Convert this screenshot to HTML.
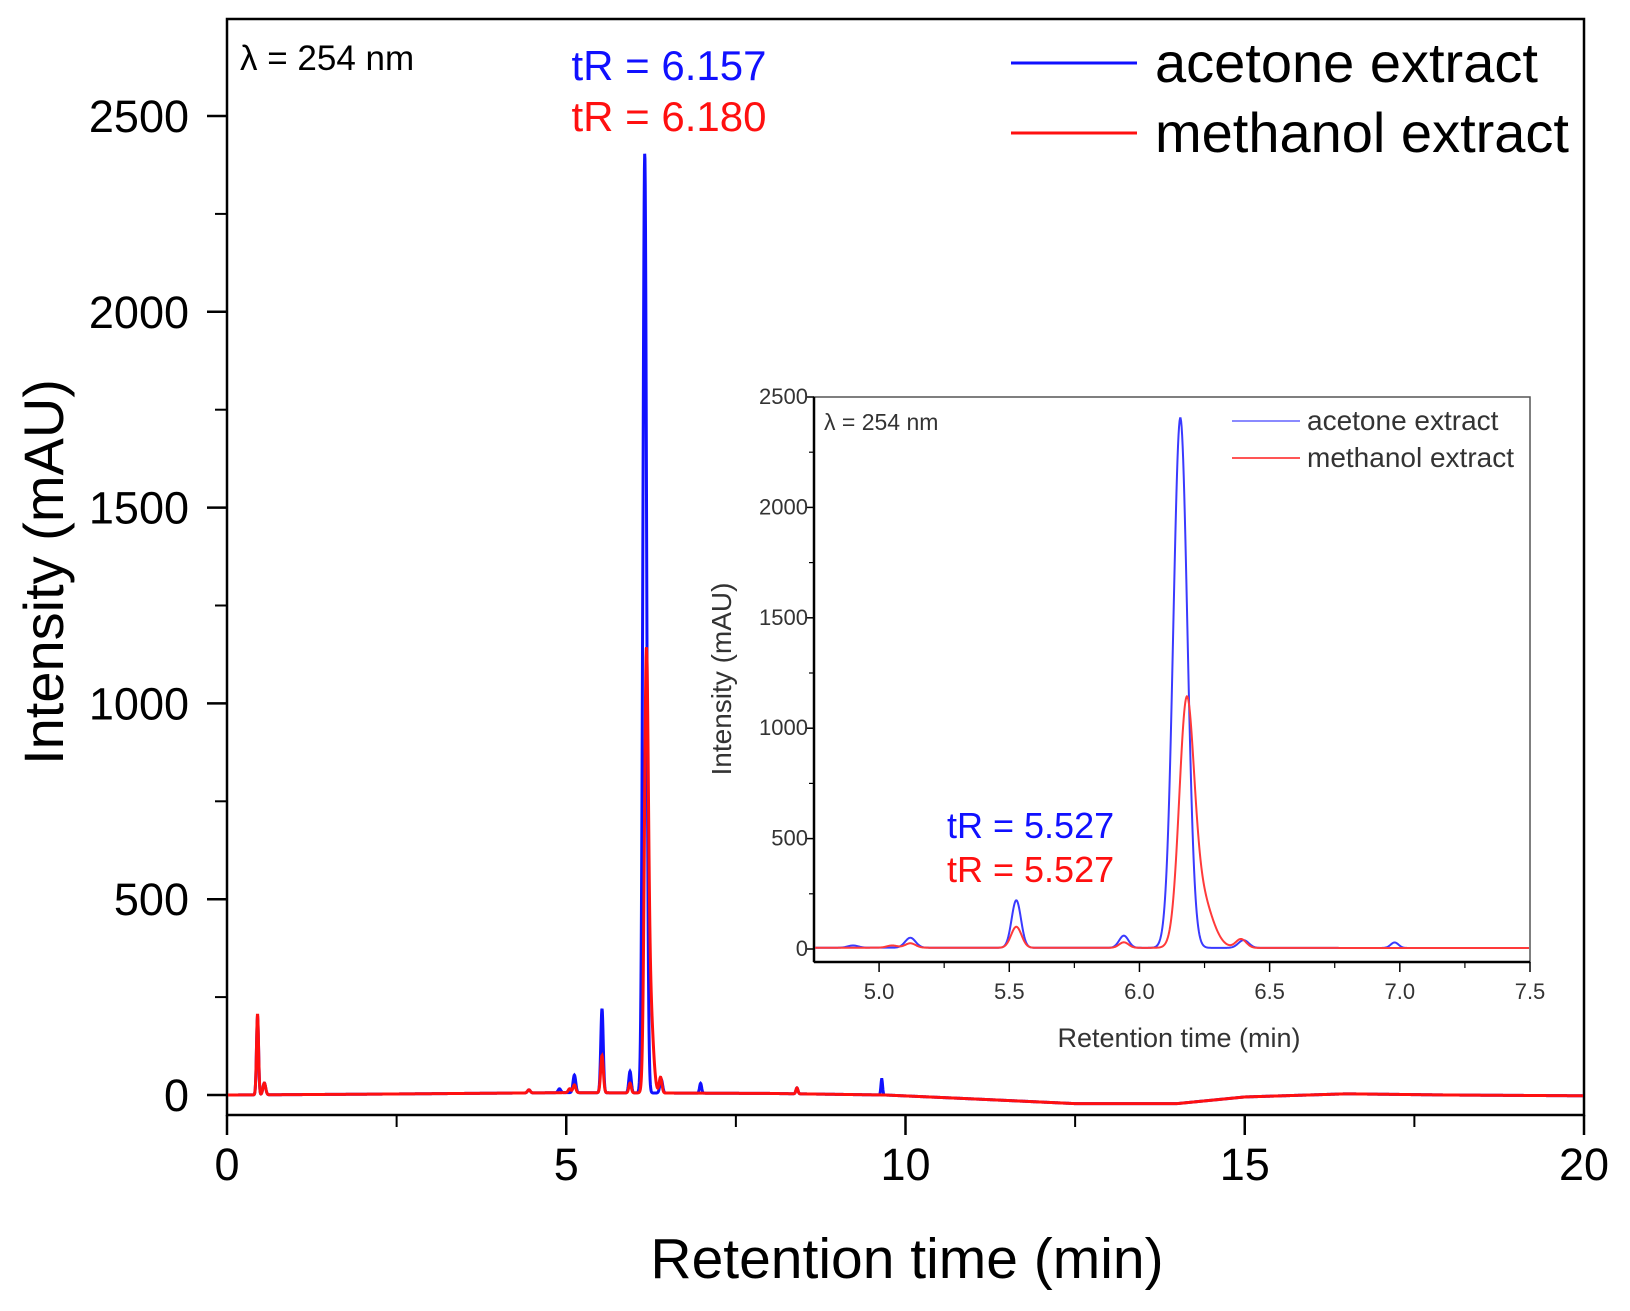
<!DOCTYPE html>
<html><head><meta charset="utf-8"><style>
body{margin:0;background:#fff}
svg{display:block;font-family:"Liberation Sans",Arial,sans-serif}
</style></head><body>
<svg id="c" width="1630" height="1311" viewBox="0 0 1630 1311"></svg>
<script>
// Data
const acetonePeakTimes   = [0.45, 0.55, 4.45, 4.9, 5.12, 5.527, 5.94, 6.157, 6.4, 6.98, 8.4, 9.65];
const acetonePeakHeights = [200, 30, 8, 10, 45, 215, 55, 2400, 35, 25, 15, 40];
const acetonePeakWidths  = [0.015,0.02,0.02,0.02,0.02,0.018,0.018,0.027,0.02,0.015,0.015,0.012];
const methanolPeakTimes   = [0.45, 0.55, 4.45, 5.05, 5.12, 5.527, 5.94, 6.18, 6.23, 6.39, 8.4];
const methanolPeakHeights = [205, 30, 8, 10, 20, 95, 25, 1000, 250, 40, 15];
const methanolPeakWidths  = [0.015,0.02,0.02,0.02,0.02,0.02,0.018,0.028,0.045,0.02,0.015];
const baselineTimes  = [0, 2, 5, 8, 9.7, 11, 12.5, 14, 15, 16.5, 18, 20];
const baselineValues = [0, 2, 6, 4, 0, -10, -22, -22, -5, 3, 0, -2];
const mainXTicks = [0, 5, 10, 15, 20];
const mainYTicks = [0, 500, 1000, 1500, 2000, 2500];
const insetXTicks = [5.0, 5.5, 6.0, 6.5, 7.0, 7.5];
const insetYTicks = [0, 500, 1000, 1500, 2000, 2500];

const NS="http://www.w3.org/2000/svg", svg=document.getElementById('c');
function el(tag, attrs, parent, text){const e=document.createElementNS(NS,tag);for(const k in attrs)e.setAttribute(k,attrs[k]);if(text!==undefined)e.textContent=text;(parent||svg).appendChild(e);return e;}
function baseline(t){for(let i=1;i<baselineTimes.length;i++){if(t<=baselineTimes[i]){const a=baselineTimes[i-1],b=baselineTimes[i];const f=(t-a)/(b-a);return baselineValues[i-1]+f*(baselineValues[i]-baselineValues[i-1]);}}return baselineValues[baselineValues.length-1];}
function signal(t,T,H,W){let v=baseline(t);for(let i=0;i<T.length;i++){const d=(t-T[i])/W[i];v+=H[i]*Math.exp(-0.5*d*d);}return v;}
function pathFor(T,H,W,x0,x1,step,sx,sy){let d='';for(let t=x0;t<=x1+1e-9;t+=step){d+=(d?'L':'M')+sx(t).toFixed(2)+','+sy(signal(t,T,H,W)).toFixed(2);}return d;}

// Main axes
const L=227,R=1584,T0=19,B=1115;
const mx=t=>L+(t-0)/20*(R-L);
const my=v=>1095-v/2500*(1095-116);
const g=el('g',{});

const frame=el('rect',{x:L,y:T0,width:R-L,height:B-T0,fill:'none',stroke:'#000','stroke-width':2.5},g);

mainXTicks.forEach(t=>{
  el('line',{x1:mx(t),x2:mx(t),y1:B,y2:B+20,stroke:'#000','stroke-width':2.5},g);
  const lb=el('text',{x:mx(t),y:1180,'font-size':45,'text-anchor':'middle'},g,String(t));
  
});
for(let t=2.5;t<20;t+=5){el('line',{x1:mx(t),x2:mx(t),y1:B,y2:B+12,stroke:'#000','stroke-width':2},g);}
mainYTicks.forEach(v=>{
  el('line',{x1:207,x2:L,y1:my(v),y2:my(v),stroke:'#000','stroke-width':2.5},g);
  const lb=el('text',{x:189,y:my(v)+16,'font-size':45,'text-anchor':'end'},g,String(v));
  
});
for(let v=250;v<2750;v+=500){el('line',{x1:215,x2:L,y1:my(v),y2:my(v),stroke:'#000','stroke-width':2},g);}
let t1=el('text',{x:907,y:1278,'font-size':57,'text-anchor':'middle'},g,'Retention time (min)');

let t2=el('text',{x:0,y:0,'font-size':56,'text-anchor':'middle',transform:'translate(63,572) rotate(-90)'},g,'Intensity (mAU)');

el('clipPath',{id:'mc'},g);el('rect',{x:L+1,y:T0+1,width:R-L-2,height:B-T0-2},document.getElementById('mc'));
const pa=el('path',{d:pathFor(acetonePeakTimes,acetonePeakHeights,acetonePeakWidths,0,20,0.004,mx,my),fill:'none',stroke:'#1010ff','stroke-width':3,'clip-path':'url(#mc)'},g);

const pm=el('path',{d:pathFor(methanolPeakTimes,methanolPeakHeights,methanolPeakWidths,0,20,0.004,mx,my),fill:'none',stroke:'#ff1010','stroke-width':3,'clip-path':'url(#mc)'},g);

let w=el('text',{x:240,y:70,'font-size':35},g,'λ = 254 nm');
let a1=el('text',{x:669,y:80,'font-size':42,fill:'#1010ff','text-anchor':'middle'},g,'tR = 6.157');
let a2=el('text',{x:669,y:131,'font-size':42,fill:'#ff1010','text-anchor':'middle'},g,'tR = 6.180');
const lg=el('g',{},g);
el('line',{x1:1011,x2:1137,y1:63,y2:63,stroke:'#1010ff','stroke-width':3},lg);
el('line',{x1:1011,x2:1137,y1:133,y2:133,stroke:'#ff1010','stroke-width':3},lg);
let l1=el('text',{x:1155,y:82,'font-size':56},lg,'acetone extract');
let l2=el('text',{x:1155,y:152,'font-size':56},lg,'methanol extract');

// Inset
const IL=814,IR=1530,IT=397,IB=962,IZ=949;
const ix=t=>IL+(t-4.75)/2.75*(IR-IL);
const iy=v=>IZ-v/2500*(IZ-IT);
const ig=el('g',{});
el('rect',{x:IL,y:IT,width:IR-IL,height:IB-IT,fill:'#fff',stroke:'#555','stroke-width':1.5},ig);
el('line',{x1:IL,x2:IR,y1:IB,y2:IB,stroke:'#000','stroke-width':2.5},ig);
el('line',{x1:IL,x2:IL,y1:IT,y2:IB,stroke:'#000','stroke-width':2.5},ig);
insetXTicks.forEach(t=>{
  el('line',{x1:ix(t),x2:ix(t),y1:IB,y2:IB+10,stroke:'#000','stroke-width':1.5},ig);
  const lb=el('text',{x:ix(t),y:999,'font-size':22,'text-anchor':'middle',fill:'#333'},ig,t.toFixed(1));
  
});
for(let t=5.25;t<7.5;t+=0.5){el('line',{x1:ix(t),x2:ix(t),y1:IB,y2:IB+6,stroke:'#000','stroke-width':1.2},ig);}
insetYTicks.forEach(v=>{
  el('line',{x1:IL-8,x2:IL,y1:iy(v),y2:iy(v),stroke:'#000','stroke-width':1.5},ig);
  const lb=el('text',{x:IL-6,y:iy(v)+7,'font-size':22,'text-anchor':'end',fill:'#333'},ig,String(v));
  
});
for(let v=250;v<2500;v+=500){el('line',{x1:IL-5,x2:IL,y1:iy(v),y2:iy(v),stroke:'#000','stroke-width':1.2},ig);}
let it1=el('text',{x:1179,y:1047,'font-size':27,'text-anchor':'middle',fill:'#333'},ig,'Retention time (min)');
let it2=el('text',{x:0,y:0,'font-size':28,'text-anchor':'middle',fill:'#333',transform:'translate(731,679) rotate(-90)'},ig,'Intensity (mAU)');
el('clipPath',{id:'ic'},ig);el('rect',{x:IL+1,y:IT+1,width:IR-IL-2,height:IB-IT-2},document.getElementById('ic'));
const ipa=el('path',{d:pathFor(acetonePeakTimes,acetonePeakHeights,acetonePeakWidths,4.75,7.5,0.002,ix,iy),fill:'none',stroke:'#3a3aff','stroke-width':2,'clip-path':'url(#ic)'},ig);

const ipm=el('path',{d:pathFor(methanolPeakTimes,methanolPeakHeights,methanolPeakWidths,4.75,7.5,0.002,ix,iy),fill:'none',stroke:'#ff3a3a','stroke-width':2,'clip-path':'url(#ic)'},ig);

let iw=el('text',{x:824,y:430,'font-size':23,fill:'#333'},ig,'λ = 254 nm');
el('line',{x1:1232,x2:1300,y1:421,y2:421,stroke:'#8a8aff','stroke-width':2},ig);
el('line',{x1:1232,x2:1300,y1:458,y2:458,stroke:'#ff5555','stroke-width':2},ig);
let il1=el('text',{x:1307,y:430,'font-size':28,fill:'#333'},ig,'acetone extract');
let il2=el('text',{x:1307,y:467,'font-size':28,fill:'#333'},ig,'methanol extract');
let ia1=el('text',{x:947,y:838,'font-size':36,fill:'#1010ff'},ig,'tR = 5.527');
let ia2=el('text',{x:947,y:882,'font-size':36,fill:'#ff1010'},ig,'tR = 5.527');
</script>
</body></html>
